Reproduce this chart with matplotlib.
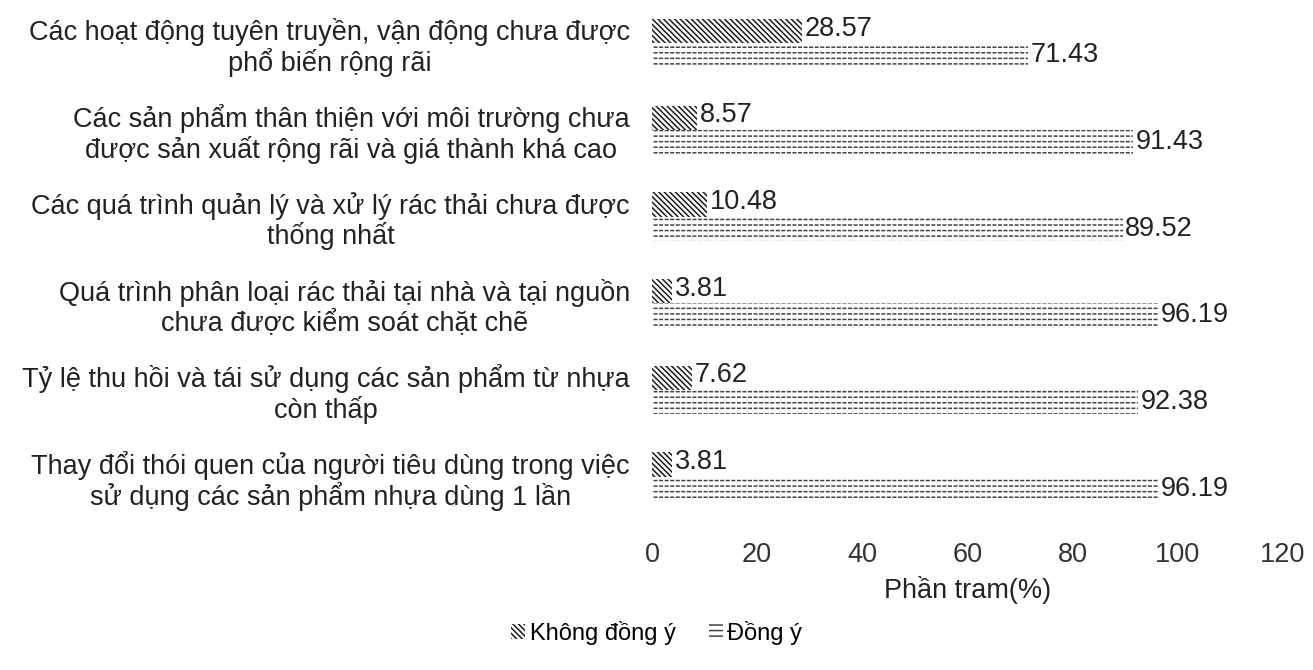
import numpy as np
import matplotlib
matplotlib.use("Agg")
from matplotlib import pyplot as plt
from matplotlib.patches import Patch

categories = [
    "Các hoạt động tuyên truyền, vận động chưa được\nphổ biến rộng rãi",
    "Các sản phẩm thân thiện với môi trường chưa\nđược sản xuất rộng rãi và giá thành khá cao",
    "Các quá trình quản lý và xử lý rác thải chưa được\nthống nhất",
    "Quá trình phân loại rác thải tại nhà và tại nguồn\nchưa được kiểm soát chặt chẽ",
    "Tỷ lệ thu hồi và tái sử dụng các sản phẩm từ nhựa\ncòn thấp",
    "Thay đổi thói quen của người tiêu dùng trong việc\nsử dụng các sản phẩm nhựa dùng 1 lần",
]
khong_dong_y = [28.57, 8.57, 10.48, 3.81, 7.62, 3.81]
dong_y = [71.43, 91.43, 89.52, 96.19, 92.38, 96.19]

plt.rcParams['font.family'] = ['Liberation Sans', 'DejaVu Sans']
plt.rcParams['hatch.linewidth'] = 1.1

fig = plt.figure(figsize=(13.13, 6.70), dpi=100)
ax = fig.add_axes([0.4966, 0.224, 0.4805, 0.776])

y = np.arange(len(categories))
h = 0.28
fs = 19.5

# "Không đồng ý": dense diagonal hatch
ax.barh(y - h / 2, khong_dong_y, height=h, color='white', edgecolor='#1a1a1a',
        hatch='\\' * 6, linewidth=0)
# "Đồng ý": horizontal lines broken into dashes by white vertical stripes
ax.barh(y + h / 2, dong_y, height=h, color='white', edgecolor='#444444',
        hatch='---', linewidth=0)
ax.barh(y + h / 2, dong_y, height=h, color='none', edgecolor='white',
        hatch='|||', linewidth=0)

for yi, v in zip(y, khong_dong_y):
    ax.text(v + 0.5, yi - h / 2 - 0.03, f"{v:.2f}", va='center', ha='left', fontsize=fs, color='#222222')
for yi, v in zip(y, dong_y):
    ax.text(v + 0.5, yi + h / 2, f"{v:.2f}", va='center', ha='left', fontsize=fs, color='#222222')

ax.set_xlim(0, 120)
ax.set_ylim(len(categories) - 0.5, -0.5)
ax.set_xticks(np.arange(0, 121, 20))
ax.set_yticks(y)
ax.set_yticklabels(categories, fontsize=fs, multialignment='center', color='#222222',
                   linespacing=1.1)
ax.tick_params(axis='x', labelsize=fs, length=0, pad=16, labelcolor='#333333')
ax.tick_params(axis='y', length=0, pad=16)
ax.set_xlabel("Phần tram(%)", fontsize=fs, color='#222222', labelpad=6)
for s in ax.spines.values():
    s.set_visible(False)

handles = [
    Patch(facecolor='white', edgecolor='#1a1a1a', hatch='\\' * 6, linewidth=0, label='Không đồng ý'),
    Patch(facecolor='white', edgecolor='#444444', hatch='---', linewidth=0, label='Đồng ý'),
]
fig.legend(handles=handles, loc='center', bbox_to_anchor=(0.5, 0.055), ncol=2,
           frameon=False, fontsize=17, handlelength=0.6, handleheight=0.6,
           handletextpad=0.2, columnspacing=1.4)

fig.savefig("out.png", dpi=100)
